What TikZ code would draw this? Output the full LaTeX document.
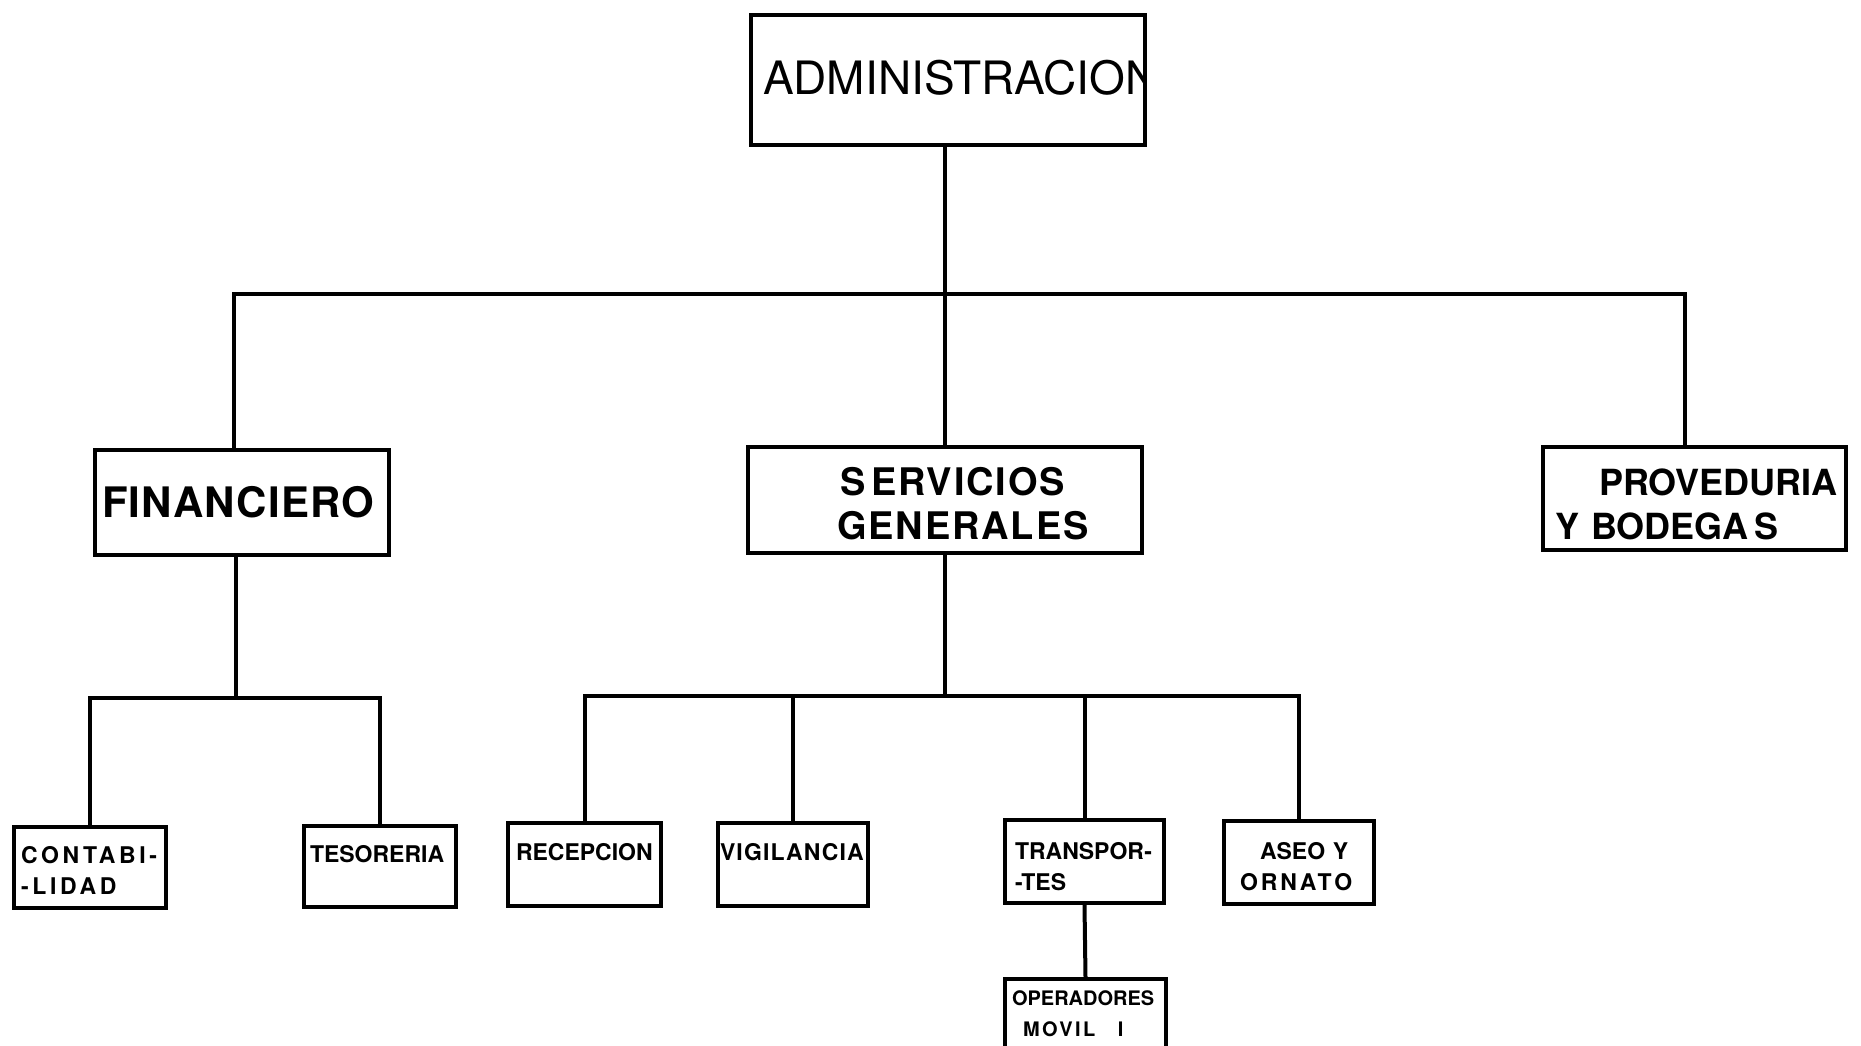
\documentclass[tikz,border=0pt]{standalone}
\usepackage{fontspec}
\setmainfont{TeX Gyre Heros}
\newcommand{\toppad}[1]{\rule{0pt}{#1}}
\begin{document}
\begin{tikzpicture}[x=1pt,y=-1pt,
  box/.style={draw, line width=4pt, rectangle, inner ysep=0pt},
  small/.style={box, font=\fontsize{23}{31}\selectfont\bfseries, align=left},
  big/.style={box, font=\fontsize{38}{44}\selectfont\bfseries, align=left},
  conn/.style={line width=4pt}]
\clip (0,0) rectangle (1861,1045);
\fill[white] (0,0) rectangle (1861,1045);

% top level
\node[box, minimum width=394pt, minimum height=130pt,
  path picture={\node[draw=none, fill=none, minimum width=0pt, minimum height=0pt,
     inner sep=0pt, anchor=base west, font=\fontsize{46}{54}\selectfont]
     at ([xshift=10pt,yshift=-14pt]path picture bounding box.west) {ADMINISTRACION};}]
  (adm) at (948,80) {};

\node[big, font=\fontsize{42}{48}\selectfont\bfseries\addfontfeature{LetterSpace=3}, minimum width=294pt, minimum height=105pt,
  inner xsep=7pt, text width=280pt] (fin) at (242,502.5) {FINANCIERO};
\node[big, font=\fontsize{38}{44}\selectfont\bfseries\addfontfeature{LetterSpace=5}, minimum width=394pt, minimum height=106pt, inner xsep=10pt, text width=374pt]
  (sg) at (945,500) {\toppad{36pt}\hspace*{82pt}S\kern6pt ERVICIOS\\\hspace*{79pt}GENERALES};
\node[big, font=\fontsize{36}{44}\selectfont\bfseries, minimum width=303pt, minimum height=103pt,
  inner xsep=6pt, text width=291pt]
  (prov) at (1694.5,498.5) {\toppad{39pt}\hspace*{50pt}PROVEDURIA\\\hspace*{6pt}Y BODEGA\kern6pt S};

% financiero children
\node[small, minimum width=152pt, minimum height=81pt, inner xsep=7pt, text width=138pt]
  (cont) at (90,867.5) {\addfontfeature{LetterSpace=16}\toppad{22pt}CONTABI-\\-LIDAD};
\node[small, minimum width=152pt, minimum height=81pt, inner xsep=6pt, text width=140pt]
  (tes) at (380,866.5) {\toppad{22pt}TESORERIA\\\mbox{}};

% servicios generales children
\node[small, minimum width=153pt, minimum height=83pt, inner xsep=8pt, text width=137pt]
  (rec) at (584.5,864.5) {\toppad{22pt}RECEPCION\\\mbox{}};
\node[small, minimum width=150pt, minimum height=83pt, inner xsep=2pt, text width=146pt]
  (vig) at (793,864.5) {\addfontfeature{LetterSpace=5}\toppad{22pt}VIGILANCIA\\\mbox{}};
\node[small, minimum width=159pt, minimum height=83pt, inner xsep=10pt, text width=139pt]
  (tra) at (1084.5,861.5) {\toppad{28pt}TRANSPOR-\\-TES};
\node[small, minimum width=150pt, minimum height=83pt, inner xsep=16pt, text width=118pt]
  (aseo) at (1299,862.5) {\toppad{26pt}\hspace*{20pt}ASEO Y\\{\addfontfeature{LetterSpace=13}ORNATO}};
\node[small, font=\fontsize{20}{31}\selectfont\bfseries, minimum width=161pt, minimum height=70pt,
  inner xsep=7pt, text width=147pt]
  (op) at (1085.5,1014) {OPERADORES\\\hspace*{11pt}{\addfontfeature{LetterSpace=12}MOVIL}\hspace{16pt} I};

% connectors
\coordinate (bl) at (234,294);
\coordinate (br) at (1685,294);
\coordinate (fb) at (236,698);
\coordinate (sb) at (946,696);

\draw[conn] (adm.south -| sg.north) -- (sg.north);
\draw[conn] (fin.north -| bl) -- (bl) -- (br) -- (prov.north -| br);
\draw[conn] (fin.south -| fb) -- (fb);
\draw[conn] (cont.north) |- (fb) -| (tes.north);
\draw[conn] (sg.south) -- (sg.south |- sb);
\draw[conn] (rec.north) |- (sb) -| (aseo.north);
\draw[conn] (vig.north) -- (vig.north |- sb);
\draw[conn] (tra.north) -- (tra.north |- sb);
\draw[conn] (tra.south) -- (op.north);
\end{tikzpicture}
\end{document}
